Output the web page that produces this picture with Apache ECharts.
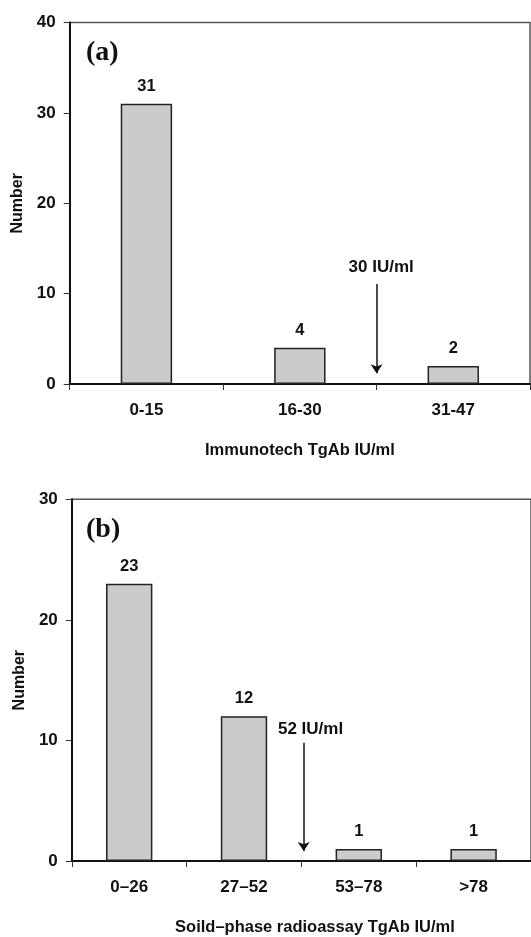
<!DOCTYPE html>
<html>
<head>
<meta charset="utf-8">
<script src="https://cdn.jsdelivr.net/npm/echarts@6/dist/echarts.min.js"></script>
<style>
html,body{margin:0;padding:0;background:#fff;}
#c{width:531px;height:937px;}
</style>
</head>
<body>
<div id="c"></div>
<script>
// ---- Data ----
const catsA = ['0-15', '16-30', '31-47'];
const valsA = [31, 4, 2];
const catsB = ['0–26', '27–52', '53–78', '>78'];
const valsB = [23, 12, 1, 1];

// cut-off arrows: x in category-index units, y in data units
const arrowA = [[2, 11.06], [2, 1.2]];
const arrowALabelPos = [2.03, 12.9];
const arrowALabel = '30 IU/ml';
const arrowB = [[2.02, 9.8], [2.02, 0.82]];
const arrowBLabelPos = [2.08, 10.9];
const arrowBLabel = '52 IU/ml';

const yMaxA = 40, yMaxB = 30, yStep = 10;
const xNameA = 'Immunotech TgAb IU/ml';
const xNameB = 'Soild–phase radioassay TgAb IU/ml';
const yName = 'Number';

// ---- Chart ----
const FONT = '"Liberation Sans", Arial, sans-serif';
const INK = '#111';
const chart = echarts.init(document.getElementById('c'), null, {renderer: 'canvas'});

function catAxis(gi, data, name, nameExtra) {
  return {
    type: 'category', gridIndex: gi, data: data,
    axisLine: {lineStyle: {color: INK, width: 2}},
    axisTick: {show: true, length: 6, lineStyle: {color: '#333', width: 1}},
    axisLabel: {fontFamily: FONT, fontWeight: 'bold', fontSize: 17, color: INK, margin: 18},
    name: name, nameLocation: 'middle', nameGap: 58,
    nameTextStyle: Object.assign({fontFamily: FONT, fontWeight: 'bold', fontSize: 16.5, color: INK}, nameExtra || {})
  };
}
function hiddenX(gi, n) {
  return {type: 'value', gridIndex: gi, min: 0, max: n, show: false};
}
function valAxis(gi, max) {
  return {
    type: 'value', gridIndex: gi, min: 0, max: max, interval: yStep,
    splitLine: {show: false},
    axisLine: {show: true, lineStyle: {color: INK, width: 2}},
    axisTick: {show: true, length: 6, lineStyle: {color: '#333', width: 1}},
    axisLabel: {fontFamily: FONT, fontWeight: 'bold', fontSize: 17, color: INK, margin: 14},
    name: yName, nameLocation: 'middle', nameGap: 42, nameRotate: 90,
    nameTextStyle: {fontFamily: FONT, fontWeight: 'bold', fontSize: 16, color: INK}
  };
}
function barSeries(xi, yi, data, w) {
  return {
    type: 'bar', xAxisIndex: xi, yAxisIndex: yi, data: data, barWidth: w,
    itemStyle: {color: '#cbcbcb', borderColor: '#222', borderWidth: 1.5},
    label: {show: true, position: 'top', distance: 9, fontFamily: FONT, fontWeight: 'bold', fontSize: 16.5, color: INK}
  };
}
function arrowSeries(xi, yi, coords) {
  return {
    type: 'lines', coordinateSystem: 'cartesian2d', xAxisIndex: xi, yAxisIndex: yi,
    symbol: ['none', 'arrow'], symbolSize: 9,
    lineStyle: {color: INK, width: 1.5, opacity: 1},
    data: [{coords: coords}]
  };
}
function textSeries(xi, yi, pos, txt) {
  return {
    type: 'scatter', xAxisIndex: xi, yAxisIndex: yi, symbolSize: 0,
    data: [pos], silent: true,
    itemStyle: {opacity: 1},
    label: {show: true, position: 'inside', formatter: txt, fontFamily: FONT, fontWeight: 'bold', fontSize: 17, color: INK, opacity: 1}
  };
}

chart.setOption({
  animation: false,
  backgroundColor: '#fff',
  title: [
    {text: '(a)', left: 86, top: 39, padding: 0, textStyle: {fontFamily: '"Liberation Serif", "Times New Roman", serif', fontWeight: 'bold', fontSize: 28, color: INK}},
    {text: '(b)', left: 86, top: 516, padding: 0, textStyle: {fontFamily: '"Liberation Serif", "Times New Roman", serif', fontWeight: 'bold', fontSize: 28, color: INK}}
  ],
  grid: [
    {left: 69.7, top: 22.5, width: 460.3, height: 361.5, show: true, borderColor: '#555', borderWidth: 1.5, backgroundColor: 'transparent'},
    {left: 71.8, top: 499.3, width: 468.8, height: 364.7, show: true, borderColor: '#555', borderWidth: 1.5, backgroundColor: 'transparent'}
  ],
  xAxis: [
    catAxis(0, catsA, xNameA),
    hiddenX(0, catsA.length),
    catAxis(1, catsB, xNameB, {padding: [0, 0, 0, 27]}),
    hiddenX(1, catsB.length)
  ],
  yAxis: [valAxis(0, yMaxA), valAxis(1, yMaxB)],
  series: [
    barSeries(0, 0, valsA, '33.5%'),
    arrowSeries(1, 0, arrowA),
    textSeries(1, 0, arrowALabelPos, arrowALabel),
    barSeries(2, 1, valsB, '40.4%'),
    arrowSeries(3, 1, arrowB),
    textSeries(3, 1, arrowBLabelPos, arrowBLabel)
  ]
});
</script>
</body>
</html>
